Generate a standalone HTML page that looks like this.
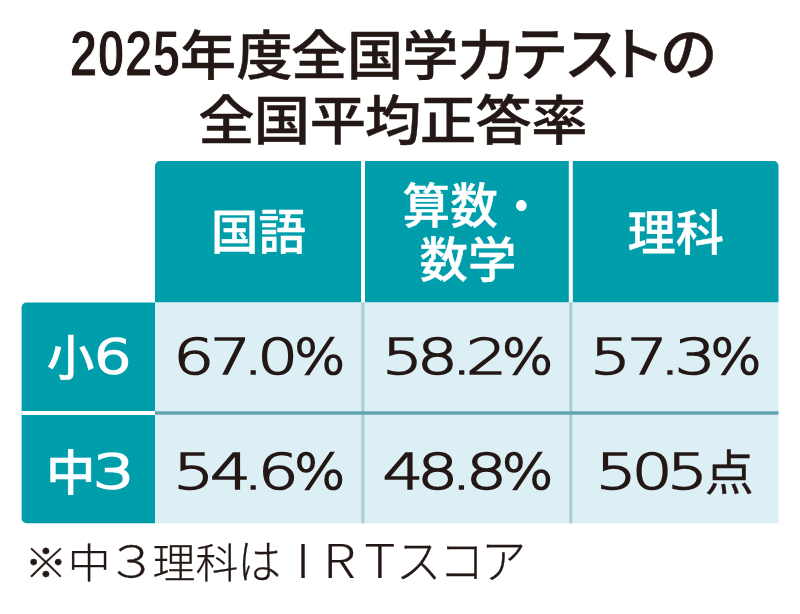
<!DOCTYPE html>
<html lang="ja"><head><meta charset="utf-8"><title>2025年度全国学力テストの全国平均正答率</title>
<style>
html,body{margin:0;padding:0;background:#fff;}
body{width:800px;height:614px;overflow:hidden;}
svg{display:block;}
text{font-kerning:none;white-space:pre;}
.jb{font-family:"Liberation Sans","Noto Sans CJK JP",sans-serif;font-weight:700;}
.cl{font-family:"Noto Sans CJK JP",sans-serif;font-weight:300;}
.cr{font-family:"Noto Sans CJK JP",sans-serif;font-weight:400;}
.cm{font-family:"Noto Sans CJK JP",sans-serif;font-weight:500;}
.dx{font-family:"DejaVu Sans Light","DejaVu Sans",sans-serif;font-weight:200;}
</style></head>
<body>
<svg width="800" height="614" viewBox="0 0 800 614" role="img" aria-label="2025年度全国学力テストの全国平均正答率">
<rect width="800" height="614" fill="#fff"/>

<path d="M155 302.5V166a5 5 0 0 1 5-5H773.5a5 5 0 0 1 5 5V302.5Z" fill="#009dab"/>
<path d="M155 302.5H26.6a5 5 0 0 0-5 5V518.3a5 5 0 0 0 5 5H155Z" fill="#009dab"/>
<rect x="155" y="302.5" width="623.5" height="220.8" fill="#dceff4"/>
<rect x="361" y="161" width="4" height="141.5" fill="#fff"/>
<rect x="568.8" y="161" width="4" height="141.5" fill="#fff"/>
<rect x="361.3" y="302.5" width="3.2" height="220.8" fill="#a9ced6"/>
<rect x="569.2" y="302.5" width="3.2" height="220.8" fill="#a9ced6"/>
<rect x="21.6" y="411" width="133.4" height="4" fill="#fff"/>
<rect x="155" y="411.3" width="623.5" height="3.4" fill="#5fa3af"/>

<text class="jb" font-size="64.5" stroke-width="1.1" fill="#231815" stroke="#fff" transform="translate(69.69 75.8) scale(0.7696 1)">2025</text>
<text class="cm" font-size="53.5" stroke-width="0.5" stroke-linejoin="miter" fill="#231815" stroke="#231815" x="171.48 225.17 277.10 330.45 383.10 435.90" y="0" transform="translate(0 74.6) scale(1.0500 1)">年度全国学力</text>
<text class="cm" font-size="57.5" stroke-width="0.5" stroke-linejoin="miter" fill="#231815" stroke="#231815" x="510.80 563.70 607.50 659.90" y="0" transform="translate(0 74.8) scale(1.0000 1)">テストの</text>
<text class="cm" font-size="53.5" stroke-width="0.5" stroke-linejoin="miter" fill="#231815" stroke="#231815" x="188.81 241.69 294.93 347.52 399.98 452.93 506.07" y="0" transform="translate(0 139.8) scale(1.0500 1)">全国平均正答率</text>
<text class="cm" font-size="48" stroke-width="0.4" stroke-linejoin="miter" fill="#fff" stroke="#fff" transform="translate(211.04 249.3) scale(0.9890 1)">国語</text>
<text class="cm" font-size="48" stroke-width="0.4" stroke-linejoin="miter" fill="#fff" stroke="#fff" transform="translate(402.61 223) scale(0.9915 1)">算数</text>
<text class="cm" font-size="48" fill="#fff" transform="translate(498.65 222.6) scale(0.9417 1)">・</text>
<text class="cm" font-size="48" stroke-width="0.4" stroke-linejoin="miter" fill="#fff" stroke="#fff" transform="translate(419.59 276.5) scale(1.0086 1)">数学</text>
<text class="cm" font-size="48" stroke-width="0.4" stroke-linejoin="miter" fill="#fff" stroke="#fff" transform="translate(627.49 250) scale(1.0053 1)">理科</text>
<text class="cm" font-size="48" stroke-width="0.4" stroke-linejoin="miter" fill="#fff" stroke="#fff" transform="translate(46.81 375) scale(0.9913 1)">小</text>
<text class="dx" font-size="46.8" stroke-width="3.0" stroke-linejoin="miter" vector-effect="non-scaling-stroke" fill="#fff" stroke="#fff" transform="translate(93.61 373.1) scale(1.2857 1)">6</text>
<text class="cm" font-size="48" stroke-width="0.4" stroke-linejoin="miter" fill="#fff" stroke="#fff" transform="translate(45.88 490) scale(1.0312 1)">中</text>
<text class="dx" font-size="46.8" stroke-width="3.0" stroke-linejoin="miter" vector-effect="non-scaling-stroke" fill="#fff" stroke="#fff" transform="translate(93.59 488.1) scale(1.3738 1)">3</text>
<text class="dx" font-size="49.5" stroke-width="1.8" stroke-linejoin="miter" vector-effect="non-scaling-stroke" fill="#231815" stroke="#231815" x="133.23 161.69 186.92 197.92" y="0" transform="translate(0 374) scale(1.3000 1)">67.0</text>
<text class="dx" font-size="49.5" stroke-width="1.8" stroke-linejoin="miter" vector-effect="non-scaling-stroke" fill="#231815" stroke="#231815" transform="translate(293.89 374) scale(1.0931 1)">%</text>
<text class="dx" font-size="49.5" stroke-width="1.8" stroke-linejoin="miter" vector-effect="non-scaling-stroke" fill="#231815" stroke="#231815" x="293.88 320.77 347.23 358.38" y="0" transform="translate(0 374) scale(1.3000 1)">58.2</text>
<text class="dx" font-size="49.5" stroke-width="1.8" stroke-linejoin="miter" vector-effect="non-scaling-stroke" fill="#231815" stroke="#231815" transform="translate(501.63 374) scale(1.0957 1)">%</text>
<text class="dx" font-size="49.5" stroke-width="1.8" stroke-linejoin="miter" vector-effect="non-scaling-stroke" fill="#231815" stroke="#231815" x="453.88 482.23 507.54 519.04" y="0" transform="translate(0 374) scale(1.3000 1)">57.3</text>
<text class="dx" font-size="49.5" stroke-width="1.8" stroke-linejoin="miter" vector-effect="non-scaling-stroke" fill="#231815" stroke="#231815" transform="translate(710.24 374) scale(1.0931 1)">%</text>
<text class="dx" font-size="49.5" stroke-width="1.8" stroke-linejoin="miter" vector-effect="non-scaling-stroke" fill="#231815" stroke="#231815" x="133.27 161.46 186.92 198.23" y="0" transform="translate(0 489) scale(1.3000 1)">54.6</text>
<text class="dx" font-size="49.5" stroke-width="1.8" stroke-linejoin="miter" vector-effect="non-scaling-stroke" fill="#231815" stroke="#231815" transform="translate(293.89 489) scale(1.0931 1)">%</text>
<text class="dx" font-size="49.5" stroke-width="1.8" stroke-linejoin="miter" vector-effect="non-scaling-stroke" fill="#231815" stroke="#231815" x="294.31 320.92 347.19 358.46" y="0" transform="translate(0 489) scale(1.3000 1)">48.8</text>
<text class="dx" font-size="49.5" stroke-width="1.8" stroke-linejoin="miter" vector-effect="non-scaling-stroke" fill="#231815" stroke="#231815" transform="translate(501.63 489) scale(1.0957 1)">%</text>
<text class="dx" font-size="49.5" stroke-width="1.8" stroke-linejoin="miter" vector-effect="non-scaling-stroke" fill="#231815" stroke="#231815" x="458.27 485.92 513.12" y="0" transform="translate(0 489) scale(1.3000 1)">505</text>
<text class="cr" font-size="48" stroke-width="0.3" stroke-linejoin="miter" fill="#231815" stroke="#231815" transform="translate(704.85 490.3) scale(1.0227 1)">点</text>
<text class="cl" font-size="41.2" stroke-width="0.3" stroke-linejoin="miter" fill="#231815" stroke="#231815" x="23.47 65.17" y="0" transform="translate(0 577.5) scale(1.0400 1)">※中</text>
<text class="cl" font-size="42.5" stroke-width="0.3" stroke-linejoin="miter" fill="#231815" stroke="#231815" transform="translate(105.87 577.2) scale(1.2227 1)">３</text>
<text class="cl" font-size="41.2" stroke-width="0.3" stroke-linejoin="miter" fill="#231815" stroke="#231815" x="146.69 188.06" y="0" transform="translate(0 577.5) scale(1.0400 1)">理科</text>
<text class="cl" font-size="46" stroke-width="0.3" stroke-linejoin="miter" fill="#231815" stroke="#231815" transform="translate(237.42 578.3) scale(0.9459 1)">は</text>
<text class="cl" font-size="46.2" stroke-width="0.2" stroke-linejoin="miter" fill="#231815" stroke="#231815" x="254.97 278.48 314.09" y="0" transform="translate(0 578.1) scale(1.1600 1)">IRT</text>
<text class="cl" font-size="46.75" stroke-width="0.3" stroke-linejoin="miter" fill="#231815" stroke="#231815" x="408.34 452.69 495.81" y="0" transform="translate(0 578.2) scale(0.9700 1)">スコア</text>
</svg>
</body></html>
